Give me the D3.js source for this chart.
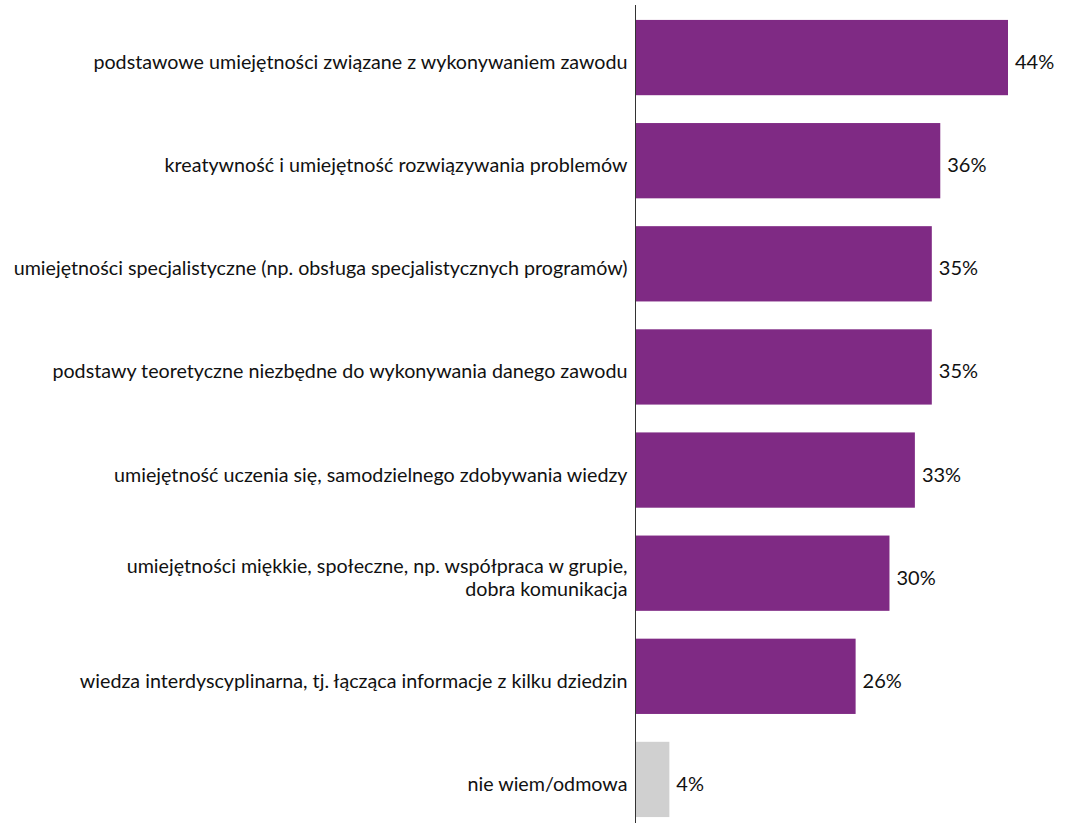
<!DOCTYPE html>
<html>
<head>
<meta charset="utf-8">
<script src="https://cdn.jsdelivr.net/npm/d3@7"></script>
<style>
  body { margin: 0; background: #fff; }
  svg { display: block; font-family: Lato, "Noto Sans", sans-serif; }
</style>
</head>
<body>
<div id="chart"></div>
<script>
var width = 1065;
var height = 823;

var categories = [
    ["podstawowe umiejętności związane z wykonywaniem zawodu"],
    ["kreatywność i umiejętność rozwiązywania problemów"],
    ["umiejętności specjalistyczne (np. obsługa specjalistycznych programów)"],
    ["podstawy teoretyczne niezbędne do wykonywania danego zawodu"],
    ["umiejętność uczenia się, samodzielnego zdobywania wiedzy"],
    ["umiejętności miękkie, społeczne, np. współpraca w grupie,", "dobra komunikacja"],
    ["wiedza interdyscyplinarna, tj. łącząca informacje z kilku dziedzin"],
    ["nie wiem/odmowa"]
];
var values = [44, 36, 35, 35, 33, 30, 26, 4];
var colors = ["#7f2a84", "#7f2a84", "#7f2a84", "#7f2a84", "#7f2a84", "#7f2a84", "#7f2a84", "#d0d0d0"];

var root = d3.select("#chart").append("svg")
    .attr("width", width)
    .attr("height", height);

var axisX = 635.5;
var labelSize = 19.7;
var lh = 23.5;

var xScale = d3.scaleLinear()
    .domain([0, 44])
    .range([axisX, 1008]);

var yScale = d3.scaleBand()
    .domain(d3.range(categories.length))
    .range([6, 831])
    .paddingInner(0.27)
    .paddingOuter(0.135);

function mid(i){ return yScale(i) + yScale.bandwidth() / 2; }

// bars
root.selectAll("rect.bar")
    .data(values)
    .enter()
        .append("rect")
            .attr("class", "bar")
            .attr("x", xScale(0))
            .attr("y", function(d, i){return yScale(i);})
            .attr("width", function(d){return xScale(d) - xScale(0);})
            .attr("height", yScale.bandwidth())
            .attr("fill", function(d, i){return colors[i];});

// value labels
root.selectAll("text.val")
    .data(values)
    .enter()
        .append("text")
            .attr("class", "val")
            .attr("x", function(d){return xScale(d) + 7;})
            .attr("y", function(d, i){return mid(i) + 11.5;})
            .attr("font-size", 20)
            .attr("fill", "#111")
            .text(function(d){return d + "%";});

// category labels
var labels = root.selectAll("text.cat")
    .data(categories)
    .enter()
        .append("text")
            .attr("class", "cat")
            .attr("x", axisX - 8)
            .attr("y", function(d, i){return mid(i) + 11.5 - (d.length - 1) * lh / 2;})
            .attr("text-anchor", "end")
            .attr("font-size", labelSize)
            .attr("fill", "#111");

labels.each(function(lines){
    var t = d3.select(this);
    lines.forEach(function(line, k){
        t.append("tspan")
            .attr("x", axisX - 8)
            .attr("dy", k === 0 ? 0 : lh)
            .text(line);
    });
});

// axis line
root.append("line")
    .attr("x1", axisX).attr("x2", axisX)
    .attr("y1", 5).attr("y2", height)
    .attr("stroke", "#333")
    .attr("stroke-width", 1);
</script>
</body>
</html>
